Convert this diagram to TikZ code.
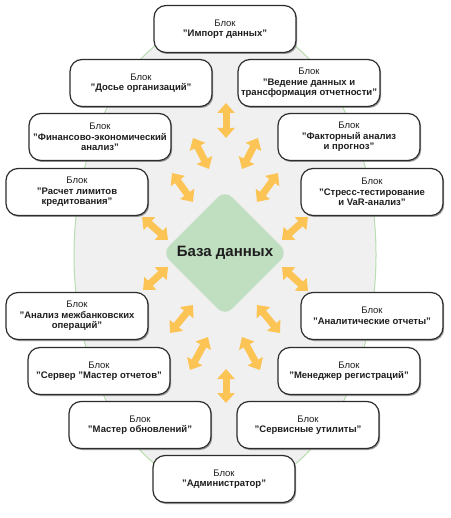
\documentclass[tikz,border=0pt]{standalone}
\usepackage{fontspec}
\setmainfont{Liberation Sans}
\usetikzlibrary{arrows.meta,shapes.geometric,shadows}
\definecolor{ellfill}{RGB}{240,240,240}
\definecolor{ellline}{RGB}{184,222,176}
\definecolor{dbfill}{RGB}{192,222,192}
\definecolor{arrc}{RGB}{252,196,84}
\definecolor{boxline}{RGB}{45,45,45}
\definecolor{txt}{RGB}{30,30,30}
\newcommand\bb[1]{\textbf{#1}}
\begin{document}
\begin{tikzpicture}[x=1pt,y=-1pt,
  blk/.style={draw=boxline, line width=1.2pt, fill=white, rounded corners=12pt,
    minimum width=142pt, minimum height=47pt, align=center, inner sep=0pt,
    text=txt, font=\fontsize{9.5}{10.5}\selectfont,
    drop shadow={shadow xshift=1.2pt, shadow yshift=-1.5pt, fill=black!55, opacity=0.7}},
  dbl/.style={line width=7pt, draw=arrc,
    {Triangle[width=17pt,length=10pt]}-{Triangle[width=17pt,length=10pt]}}]
\useasboundingbox (0,0) rectangle (450,518);
\fill[white] (0,0) rectangle (450,518);
% background ellipse
\node[ellipse, draw=ellline, line width=1pt, fill=ellfill, minimum width=302pt, minimum height=472pt, inner sep=0pt] (bg) at (225,255) {};
% arrows
\coordinate (a1s) at (226,103); \coordinate (a1e) at (226,138);
\coordinate (a2s) at (193,138); \coordinate (a2e) at (209,169);
\coordinate (a3s) at (258,138); \coordinate (a3e) at (242,169);
\coordinate (a4s) at (172,173); \coordinate (a4e) at (193,202);
\coordinate (a5s) at (278,173); \coordinate (a5e) at (257,202);
\coordinate (a6s) at (142,217); \coordinate (a6e) at (168,240);
\coordinate (a7s) at (308,217); \coordinate (a7e) at (282,240);
\coordinate (a8s) at (143,290); \coordinate (a8e) at (168,267);
\coordinate (a9s) at (308,291); \coordinate (a9e) at (282,267);
\coordinate (a10s) at (170,333); \coordinate (a10e) at (193,305);
\coordinate (a11s) at (280,333); \coordinate (a11e) at (257,305);
\coordinate (a12s) at (190,370); \coordinate (a12e) at (208,337);
\coordinate (a13s) at (260,370); \coordinate (a13e) at (242,337);
\coordinate (a14s) at (226,369); \coordinate (a14e) at (226,403);
\foreach \i in {1,...,14} \draw[dbl] (a\i s) -- (a\i e);
% database
\node[diamond, fill=dbfill, minimum width=126pt, minimum height=126pt, inner sep=0pt,
  rounded corners=10pt, text=txt, font=\fontsize{15}{15}\selectfont\bfseries] (db) at (225,253) {База данных};
% blocks
\node[blk] (imp) at (225,29) {Блок\\\bb{"Импорт данных"}};
\node[blk] (dos) at (141,83) {Блок\\\bb{"Досье организаций"}};
\node[blk] (ved) at (309,83) {Блок\\\bb{"Ведение данных и}\\\bb{трансформация отчетности"}};
\node[blk] (fin) at (100,137) {Блок\\\bb{"Финансово-экономический}\\\bb{анализ"}};
\node[blk] (fak) at (349,137) {Блок\\\bb{"Факторный анализ}\\\bb{и прогноз"}};
\node[blk] (ras) at (77,192) {Блок\\\bb{"Расчет лимитов}\\\bb{кредитования"}};
\node[blk] (str) at (372,192) {Блок\\\bb{"Стресс-тестирование}\\\bb{и VaR-анализ"}};
\node[blk] (mej) at (77,316) {Блок\\\bb{"Анализ межбанковских}\\\bb{операций"}};
\node[blk] (ana) at (372,316) {Блок\\\bb{"Аналитические отчеты"}};
\node[blk] (ser) at (99,371) {Блок\\\bb{"Сервер "Мастер отчетов"}};
\node[blk] (men) at (349,371) {Блок\\\bb{"Менеджер регистраций"}};
\node[blk] (mas) at (140,425) {Блок\\\bb{"Мастер обновлений"}};
\node[blk] (srv) at (308,425) {Блок\\\bb{"Сервисные утилиты"}};
\node[blk] (adm) at (224,479) {Блок\\\bb{"Администратор"}};
\end{tikzpicture}
\end{document}
